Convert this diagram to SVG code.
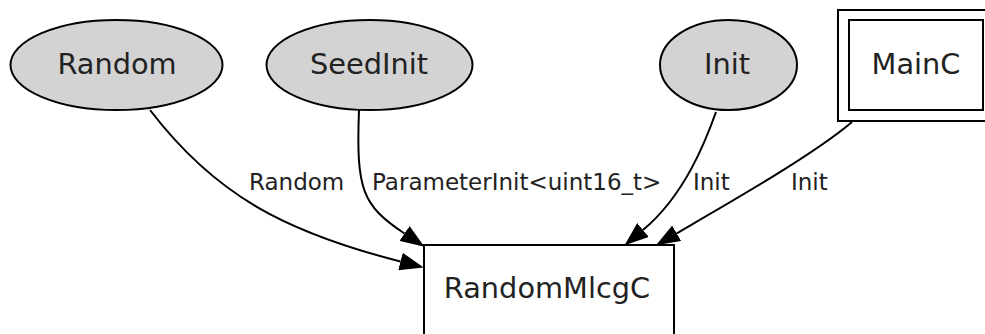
<svg xmlns="http://www.w3.org/2000/svg" width="985" height="334" viewBox="0 0 985 334">
  <style>
    .iface ellipse { fill: #d3d3d3; stroke: #000; stroke-width: 2; }
    .comp rect { fill: #fff; stroke: #000; stroke-width: 2; }
    .node text { font-family: "DejaVu Sans", "Liberation Sans", sans-serif; font-size: 28.8px; fill: #222; text-anchor: middle; }
    .edges path { fill: none; stroke: #000; stroke-width: 2; marker-end: url(#arrow); }
    .edges text { font-family: "DejaVu Sans", "Liberation Sans", sans-serif; font-size: 23px; fill: #222; }
  </style>
  <defs>
    <marker id="arrow" markerUnits="userSpaceOnUse" viewBox="0 0 24 18" refX="0" refY="9" markerWidth="24" markerHeight="18" orient="auto">
      <path d="M0,0 L24,9 L0,18 Z" fill="#000"/>
    </marker>
  </defs>
  <rect width="985" height="334" fill="#fff"/>

  <!-- interfaces (ellipses) -->
  <g id="node-Random" class="node iface">
    <ellipse cx="116.5" cy="65" rx="106" ry="45"/>
    <text x="117" y="74">Random</text>
  </g>

  <g id="node-SeedInit" class="node iface">
    <ellipse cx="369.5" cy="65" rx="103" ry="45"/>
    <text x="369" y="74">SeedInit</text>
  </g>

  <g id="node-Init" class="node iface">
    <ellipse cx="728.5" cy="65" rx="68.5" ry="45"/>
    <text x="727" y="74">Init</text>
  </g>

  <!-- components (boxes) -->
  <g id="node-MainC" class="node comp">
    <rect x="838" y="10" width="158" height="111"/>
    <rect x="849" y="20" width="134" height="90"/>
    <text x="916" y="74">MainC</text>
  </g>

  <g id="node-RandomMlcgC" class="node comp">
    <rect x="424" y="245" width="250" height="110"/>
    <text x="547" y="298">RandomMlcgC</text>
  </g>

  <!-- wiring -->
  <g id="edges" class="edges">
    <path d="M150,110 C215,195 285,232 400.5,261.5"/>
    <text x="249" y="190">Random</text>
    <path d="M359,110 C356,190 362,205 404.5,233.5"/>
    <text x="372" y="190">ParameterInit&lt;uint16_t&gt;</text>
    <path d="M716,112 C706,140 685,195 643,230"/>
    <text x="693" y="190">Init</text>
    <path d="M852,122 C812,156 722,207 676.7,233.3"/>
    <text x="791" y="190">Init</text>
  </g>
</svg>
